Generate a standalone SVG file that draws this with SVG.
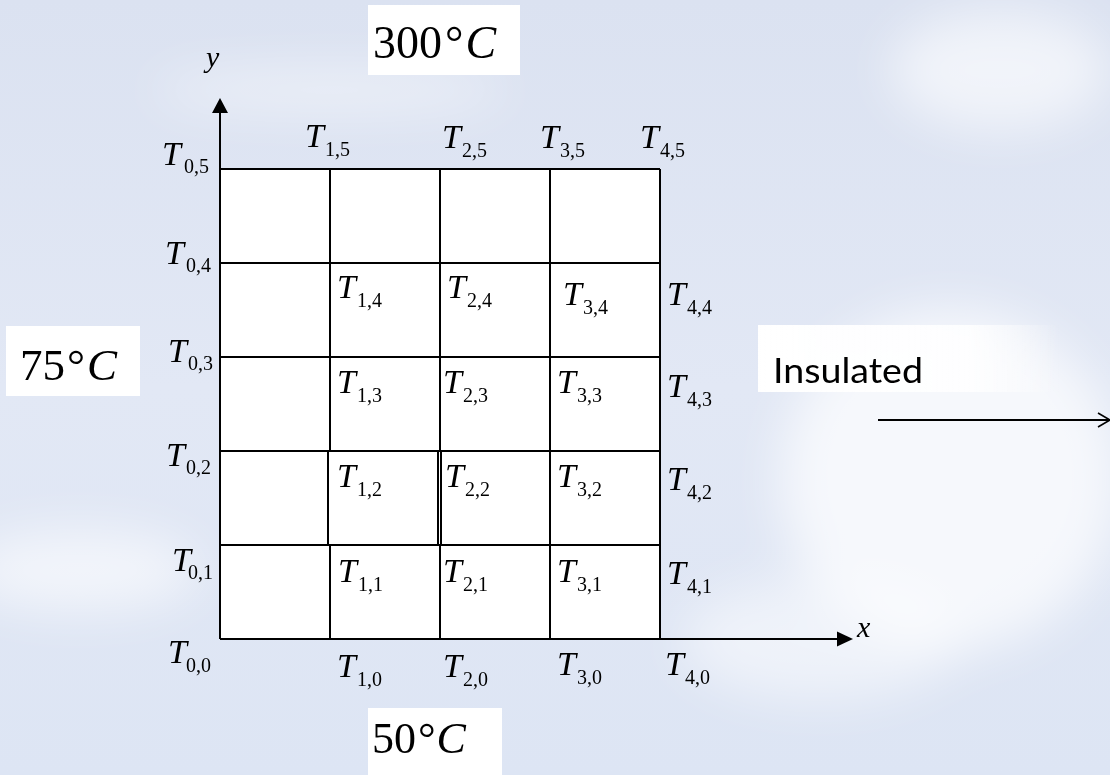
<svg xmlns="http://www.w3.org/2000/svg" width="1110" height="775" viewBox="0 0 1110 775">
<style>
.T{font-family:"Liberation Serif","Times New Roman",serif;font-style:italic;font-size:34px;fill:#000}
.s{font-style:normal;font-size:20px}
.big{font-family:"Liberation Serif","Times New Roman",serif;font-size:46px;fill:#000}
.it{font-style:italic}
.ln{stroke:#000;stroke-width:2;fill:none}
</style>
<defs>
<linearGradient id="bg" x1="0" y1="0" x2="0" y2="1">
<stop offset="0" stop-color="#dbe2f1"/>
<stop offset="0.5" stop-color="#e2e8f5"/>
<stop offset="1" stop-color="#dde5f4"/>
</linearGradient>
<linearGradient id="fadeR" x1="0" y1="0" x2="1" y2="0">
<stop offset="0" stop-color="#fff" stop-opacity="1"/>
<stop offset="0.7" stop-color="#fff" stop-opacity="0.85"/>
<stop offset="1" stop-color="#fff" stop-opacity="0"/>
</linearGradient>
<filter id="blur" x="-50%" y="-50%" width="200%" height="200%"><feGaussianBlur stdDeviation="25"/></filter>
</defs>
<g id="background">
<rect width="1110" height="775" fill="url(#bg)"/>
<g filter="url(#blur)" fill="#fff">
<ellipse cx="950" cy="480" rx="170" ry="170" opacity="0.7"/>
<ellipse cx="1000" cy="70" rx="110" ry="60" opacity="0.6"/>
<ellipse cx="80" cy="570" rx="120" ry="40" opacity="0.6"/>
<ellipse cx="820" cy="640" rx="140" ry="60" opacity="0.5"/>
<ellipse cx="330" cy="90" rx="180" ry="20" opacity="0.5"/>
</g>
</g>
<g id="grid">
<rect x="220" y="169" width="440" height="470" fill="#fff"/>
<path class="ln" d="M220 169H660M220 263H660M220 357H660M220 451H660M220 545H660M330 169V451M440 169V451M328 451V545M438 451V545M441 451V545M330 545V639M440 545V639M550 169V639M660 169V639"/>
</g>
<g id="axes">
<path class="ln" d="M220 639V112M220 639H838"/>
<path d="M220 98L212 113H228Z" fill="#000"/>
<path d="M853 639L837 631.5V646.5Z" fill="#000"/>
<text class="T" x="206" y="67" style="font-size:30px">y</text>
<text class="T" x="857" y="637" style="font-size:30px">x</text>
</g>
<g id="boundary-top">
<rect x="368" y="5" width="152" height="70" fill="#fff"/>
<text class="big" x="373" y="58">300<tspan dx="3">°</tspan><tspan class="it" dx="2">C</tspan></text>
</g>
<g id="boundary-left">
<rect x="6" y="326" width="134" height="70" fill="#fff"/>
<text class="big" x="20" y="380" style="font-size:45px">75<tspan dx="2">°</tspan><tspan class="it" dx="2">C</tspan></text>
</g>
<g id="boundary-bottom">
<rect x="368" y="708" width="134" height="70" fill="#fff"/>
<text class="big" x="372" y="753" style="font-size:44px">50<tspan dx="2">°</tspan><tspan class="it" dx="1">C</tspan></text>
</g>
<g id="boundary-right">
<rect x="758" y="325" width="302" height="67" fill="url(#fadeR)"/>
<text x="773" y="383" font-family="Lato, 'Open Sans', sans-serif" font-size="34" textLength="150" lengthAdjust="spacingAndGlyphs" fill="#000">Insulated</text>
<path class="ln" d="M878 420H1110"/>
<path d="M1098 413L1110 420L1098 427" stroke="#000" stroke-width="1.6" fill="none"/>
</g>
<g id="nodes">
<text class="T" x="162" y="165">T<tspan class="s" x="184" dy="8">0,5</tspan></text>
<text class="T" x="305" y="147">T<tspan class="s" x="325" dy="9">1,5</tspan></text>
<text class="T" x="442" y="148">T<tspan class="s" x="462" dy="9">2,5</tspan></text>
<text class="T" x="540" y="148">T<tspan class="s" x="560" dy="9">3,5</tspan></text>
<text class="T" x="640" y="148">T<tspan class="s" x="660" dy="9">4,5</tspan></text>
<text class="T" x="165" y="264">T<tspan class="s" x="186" dy="8">0,4</tspan></text>
<text class="T" x="168" y="362">T<tspan class="s" x="188" dy="8">0,3</tspan></text>
<text class="T" x="166" y="466">T<tspan class="s" x="186" dy="8">0,2</tspan></text>
<text class="T" x="172" y="571">T<tspan class="s" x="188" dy="8">0,1</tspan></text>
<text class="T" x="168" y="663">T<tspan class="s" x="186" dy="9">0,0</tspan></text>
<text class="T" x="337" y="298">T<tspan class="s" x="357" dy="9">1,4</tspan></text>
<text class="T" x="447" y="298">T<tspan class="s" x="467" dy="9">2,4</tspan></text>
<text class="T" x="563" y="305">T<tspan class="s" x="583" dy="9">3,4</tspan></text>
<text class="T" x="667" y="305">T<tspan class="s" x="687" dy="9">4,4</tspan></text>
<text class="T" x="337" y="393">T<tspan class="s" x="357" dy="9">1,3</tspan></text>
<text class="T" x="443" y="393">T<tspan class="s" x="463" dy="9">2,3</tspan></text>
<text class="T" x="557" y="393">T<tspan class="s" x="577" dy="9">3,3</tspan></text>
<text class="T" x="667" y="397">T<tspan class="s" x="687" dy="9">4,3</tspan></text>
<text class="T" x="337" y="487">T<tspan class="s" x="357" dy="9">1,2</tspan></text>
<text class="T" x="445" y="487">T<tspan class="s" x="465" dy="9">2,2</tspan></text>
<text class="T" x="557" y="487">T<tspan class="s" x="577" dy="9">3,2</tspan></text>
<text class="T" x="667" y="490">T<tspan class="s" x="687" dy="9">4,2</tspan></text>
<text class="T" x="338" y="582">T<tspan class="s" x="358" dy="9">1,1</tspan></text>
<text class="T" x="443" y="582">T<tspan class="s" x="463" dy="9">2,1</tspan></text>
<text class="T" x="557" y="582">T<tspan class="s" x="577" dy="9">3,1</tspan></text>
<text class="T" x="667" y="584">T<tspan class="s" x="687" dy="9">4,1</tspan></text>
<text class="T" x="337" y="677">T<tspan class="s" x="357" dy="9">1,0</tspan></text>
<text class="T" x="443" y="677">T<tspan class="s" x="463" dy="9">2,0</tspan></text>
<text class="T" x="557" y="675">T<tspan class="s" x="577" dy="9">3,0</tspan></text>
<text class="T" x="665" y="675">T<tspan class="s" x="685" dy="9">4,0</tspan></text>
</g>
</svg>
